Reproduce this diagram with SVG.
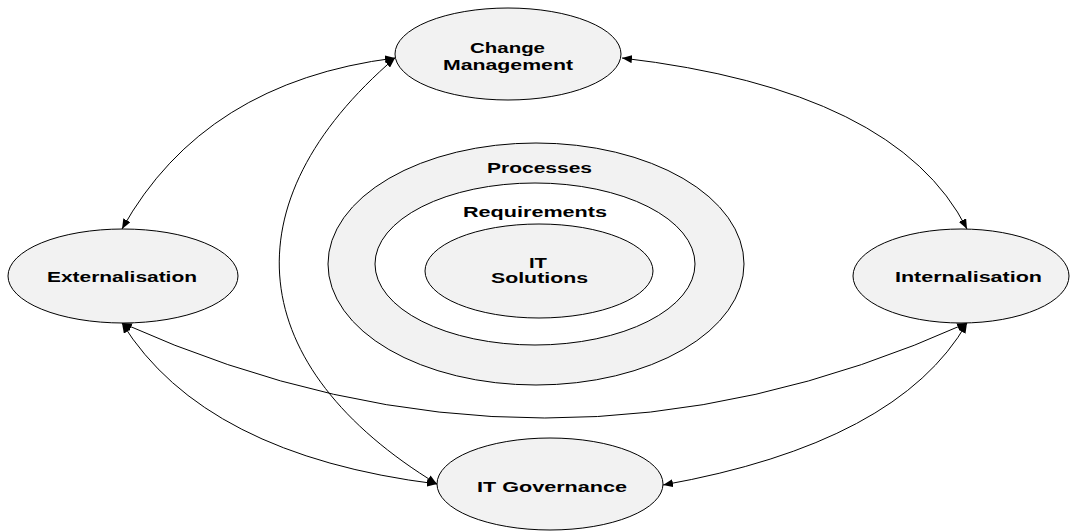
<svg xmlns="http://www.w3.org/2000/svg" width="1071" height="531" viewBox="0 0 1071 531">
  <style>
    .node { fill: #f2f2f2; stroke: #000; stroke-width: 1; }
    .ring { fill: #fff; stroke: #000; stroke-width: 1; }
    .label { font-family: "Liberation Sans", Arial, sans-serif; font-weight: bold; font-size: 14px; fill: #000; text-anchor: middle; }
    .link { fill: none; stroke: #000; stroke-width: 1; marker-start: url(#arrow); marker-end: url(#arrow); }
  </style>
  <defs>
    <marker id="arrow" viewBox="0 0 10 8" refX="10" refY="4" markerWidth="10" markerHeight="8" markerUnits="userSpaceOnUse" orient="auto-start-reverse">
      <path d="M0,0 L10,4 L0,8 Z" fill="#000"/>
    </marker>
  </defs>

  <rect width="1071" height="531" fill="#fff"/>

  <!-- central nested circles -->
  <g id="processes">
    <ellipse class="node" cx="536" cy="264" rx="208" ry="121"/>
    <text class="label" x="539.5" y="173" textLength="105" lengthAdjust="spacingAndGlyphs">Processes</text>
  </g>
  <g id="requirements">
    <ellipse class="ring" cx="535" cy="264" rx="160" ry="81"/>
    <text class="label" x="535" y="217" textLength="144" lengthAdjust="spacingAndGlyphs">Requirements</text>
  </g>
  <g id="it-solutions">
    <ellipse class="node" cx="539" cy="271" rx="114" ry="47"/>
    <text class="label" x="538" y="268" textLength="18" lengthAdjust="spacingAndGlyphs">IT</text>
    <text class="label" x="539.5" y="283" textLength="97" lengthAdjust="spacingAndGlyphs">Solutions</text>
  </g>

  <!-- connectors -->
  <g id="connectors">
    <path class="link" d="M122,229 Q204,82 395,58"/>
    <path class="link" d="M622,58 Q897,90 967,229"/>
    <path class="link" d="M122,323 Q204,455 437,484"/>
    <path class="link" d="M967,323 Q898,443 663,485"/>
    <path class="link" d="M122,323 Q545,513 967,323"/>
    <path class="link" d="M395,58 C225,204 245,367 437,484"/>
  </g>

  <!-- outer nodes -->
  <g id="change-management">
    <ellipse class="node" cx="508" cy="54" rx="113" ry="46"/>
    <text class="label" x="507.5" y="53" textLength="75" lengthAdjust="spacingAndGlyphs">Change</text>
    <text class="label" x="508" y="70" textLength="130" lengthAdjust="spacingAndGlyphs">Management</text>
  </g>
  <g id="externalisation">
    <ellipse class="node" cx="123" cy="276" rx="115" ry="47"/>
    <text class="label" x="122" y="282" textLength="150" lengthAdjust="spacingAndGlyphs">Externalisation</text>
  </g>
  <g id="internalisation">
    <ellipse class="node" cx="961" cy="276" rx="108" ry="47"/>
    <text class="label" x="968.5" y="282" textLength="147" lengthAdjust="spacingAndGlyphs">Internalisation</text>
  </g>
  <g id="it-governance">
    <ellipse class="node" cx="550" cy="484" rx="113" ry="46"/>
    <text class="label" x="552" y="492" textLength="150" lengthAdjust="spacingAndGlyphs">IT Governance</text>
  </g>
</svg>
